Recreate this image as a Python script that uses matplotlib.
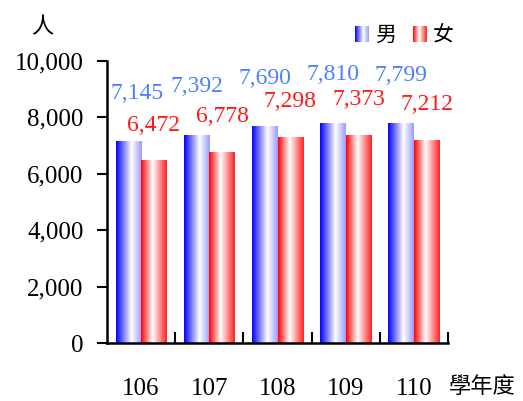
import numpy as np
import matplotlib.pyplot as plt
from matplotlib.colors import LinearSegmentedColormap

plt.rcParams['font.family'] = ['Liberation Serif', 'Noto Sans CJK TC']

years = ['106', '107', '108', '109', '110']
male = [7145, 7392, 7690, 7810, 7799]
female = [6472, 6778, 7298, 7373, 7212]

blue_cmap = LinearSegmentedColormap.from_list(
    'b', [(0, '#0000ff'), (0.6, '#ffffff'), (1, '#9a9aff')])
red_cmap = LinearSegmentedColormap.from_list(
    'r', [(0, '#ff0000'), (0.45, '#ffffff'), (1, '#ff2020')])
grad = np.linspace(0, 1, 256).reshape(1, -1)

fig = plt.figure(figsize=(5.23, 4.01), dpi=100)
ax = fig.add_axes([0.2046, 0.1446, 0.652, 0.7034])

x = np.arange(len(years))
w = 0.375
bars_m = ax.bar(x - w / 2, male, w, color='none', edgecolor='none')
bars_f = ax.bar(x + w / 2, female, w, color='none', edgecolor='none')


def fill_gradient(bars, cmap):
    for r in bars:
        x0, y0 = r.get_x(), r.get_y()
        im = ax.imshow(grad, cmap=cmap, aspect='auto',
                       extent=[x0, x0 + r.get_width(), y0, y0 + r.get_height()],
                       interpolation='bilinear', zorder=2)
        im.set_clip_path(r)


fill_gradient(bars_m, blue_cmap)
fill_gradient(bars_f, red_cmap)

# value labels (first blue one pushed right, clear of the axis)
for i, v in enumerate(male):
    nudge = 0.13 if i == 0 else 0
    ax.text(x[i] - w / 2 + nudge, v + 1700, f'{v:,}', ha='center', va='center',
            fontsize=17, color='#4f7fff', clip_on=False)
for i, v in enumerate(female):
    ax.text(x[i] + w / 2, v + 1250, f'{v:,}', ha='center', va='center',
            fontsize=17, color='#ff1a1a', clip_on=False)

ax.set_xlim(-0.5, len(years) - 0.5)
ax.set_ylim(0, 10000)
ax.set_yticks(np.arange(0, 10001, 2000))
ax.set_yticklabels([f'{t:,}' for t in range(0, 10001, 2000)], fontsize=18)
ax.tick_params(axis='y', direction='out', length=7, width=1.5, pad=10)

# x ticks at category boundaries, labels at centers
ax.set_xticks(np.arange(0.5, len(years), 1))
ax.set_xticklabels([])
ax.set_xticks(x, minor=True)
ax.set_xticklabels(years, minor=True, fontsize=18)
ax.tick_params(axis='x', which='major', direction='in', length=8, width=1.5)
ax.tick_params(axis='x', which='minor', length=0, pad=25)

for s in ['top', 'right']:
    ax.spines[s].set_visible(False)
for s in ['left', 'bottom']:
    ax.spines[s].set_linewidth(1.8)

ax.text(-0.19, 1.12, '人', transform=ax.transAxes, fontsize=16,
        ha='center', va='center', family='Noto Sans CJK TC')
ax.text(1.10, -0.155, '學年度', transform=ax.transAxes, fontsize=16,
        ha='center', va='center', family='Noto Sans CJK TC')

# legend with gradient swatches
for cmap, label, lx in [(blue_cmap, '男', 0.727), (red_cmap, '女', 0.897)]:
    ax.imshow(grad, cmap=cmap, aspect='auto', extent=[lx, lx + 0.04, 1.067, 1.121],
              transform=ax.transAxes, clip_on=False, interpolation='bilinear')
    ax.text(lx + 0.09, 1.094, label, transform=ax.transAxes, fontsize=15,
            ha='center', va='center', family='Noto Sans CJK TC')

fig.savefig('out.png', dpi=100)
